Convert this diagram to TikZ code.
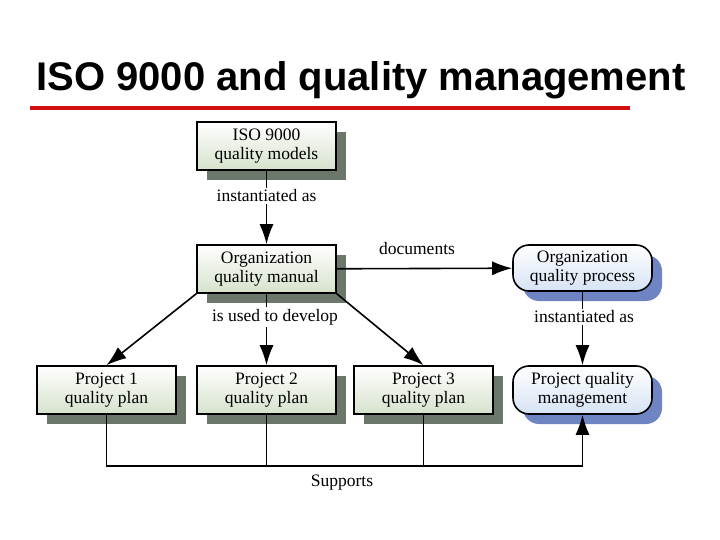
\documentclass[tikz,border=0pt]{standalone}
\usepackage{fontspec}
\setmainfont{Liberation Serif}
\newfontfamily\titlefont{Liberation Sans}
\usetikzlibrary{arrows.meta, positioning, calc}
\definecolor{boxgreen}{HTML}{D6E2CC}
\definecolor{shadegreen}{HTML}{6B776A}
\definecolor{boxblue}{HTML}{D6E3F4}
\definecolor{shadeblue}{HTML}{6F84C2}
\definecolor{titlered}{HTML}{D01010}
\tikzset{
  doc/.style={rectangle, draw=black, line width=1.6pt, top color=white, bottom color=boxgreen,
    minimum width=139pt, minimum height=48pt, align=center, font=\fontsize{17.5}{19}\selectfont,
    inner sep=1pt},
  proc/.style={rectangle, rounded corners=16pt, draw=black, line width=1.6pt, top color=white, bottom color=boxblue,
    minimum width=139pt, minimum height=46pt, align=center, font=\fontsize{17.5}{19}\selectfont,
    inner sep=1pt},
  lbl/.style={fill=white, font=\fontsize{17.5}{19}\selectfont, inner sep=2pt},
  arrow/.style={line width=1.6pt, -{Latex[length=20pt, width=14pt]}},
  link/.style={line width=1.6pt}
}
\begin{document}
\begin{tikzpicture}[x=1pt, y=-1pt]
  \useasboundingbox (0,0) rectangle (720,540);
  % title
  \node[font=\titlefont\bfseries\fontsize{40}{44}\selectfont] (title) at (361,80) {ISO 9000 and quality management};
  \draw[titlered, line width=4pt] (30,108) -- (630,108);

  % shadows first
  \foreach \c/\y in {106.5/390, 266.5/390, 423.5/390}
    \fill[shadegreen] (\c-69.5+10,\y-24+10) rectangle (\c+69.5+10,\y+24+10);
  \fill[shadegreen] (197+10,122+10) rectangle (336+10,170+10);
  \fill[shadegreen] (197+10,245+10) rectangle (336+10,293+10);
  \fill[shadeblue, rounded corners=16pt] (513+10,245+10) rectangle (652+10,291+10);
  \fill[shadeblue, rounded corners=16pt] (513+10,366+10) rectangle (652+10,414+10);

  % boxes
  \node[doc] (iso) at (266.5,146) {ISO 9000\\quality models};
  \node[doc] (manual) at (266.5,269) {Organization\\quality manual};
  \node[proc] (process) at (582.5,268) {Organization\\quality process};
  \node[doc] (plan1) at (106.5,390) {Project 1\\quality plan};
  \node[doc] (plan2) at (266.5,390) {Project 2\\quality plan};
  \node[doc] (plan3) at (423.5,390) {Project 3\\quality plan};
  \node[proc, minimum height=48pt] (qm) at (582.5,390) {Project quality\\management};

  % connectors
  \draw[arrow] (iso) -- (manual);
  \node[lbl] (inst1) at (266.5,196) {instantiated as};
  \draw[arrow] (manual) -- (process);
  \node[font=\fontsize{17.5}{19}\selectfont] (docs) at (417,249) {documents};
  \draw[arrow] (manual.south west) -- (plan1.north);
  \draw[arrow] (manual) -- (plan2);
  \draw[arrow] (manual.south east) -- (plan3.north);
  \node[lbl] (dev) at (275,317) {is used to develop};
  \draw[arrow] (process) -- (qm);
  \node[lbl] (inst2) at (584,317) {instantiated as};
  \coordinate (s1) at (106.5,466);
  \coordinate (s4) at (582.5,466);
  \draw[link] (plan1.south) -- (s1) -- (s4);
  \draw[link] (plan2.south) -- (plan2.south |- s1);
  \draw[link] (plan3.south) -- (plan3.south |- s1);
  \draw[arrow] (s4) -- (qm.south);
  \node[font=\fontsize{17.5}{19}\selectfont] (sup) at (342,483) {Supports};
\end{tikzpicture}
\end{document}
